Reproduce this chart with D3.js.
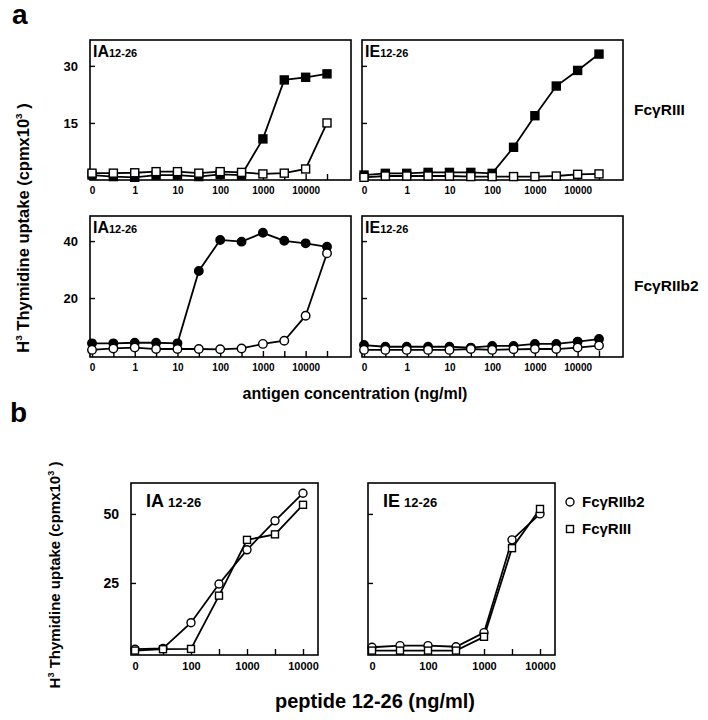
<!DOCTYPE html>
<html>
<head>
<meta charset="utf-8">
<script src="https://cdn.jsdelivr.net/npm/d3@7"></script>
<style>
  body { margin: 0; background: #fff; }
  text { font-family: "Liberation Sans", Arial, Helvetica, sans-serif; font-weight: bold; fill: #000; }
</style>
</head>
<body>
<svg id="chart" width="708" height="720"></svg>
<script>
// ---- panel a data (antigen, ng/ml) ----
const dosesA = ["0", "0.3", "1", "3", "10", "30", "100", "300", "1000", "3000", "10000", "30000"];
const tickLabelsA = ["0", "1", "10", "100", "1000", "10000"];

// FcgRIII row (squares)
const iaRIIIfilled = [1.3, 0.9, 0.7, 1.3, 1.3, 0.9, 1.5, 1.3, 10.8, 26.3, 27.0, 27.9];
const iaRIIIopen   = [1.8, 1.8, 1.9, 2.2, 2.2, 1.8, 2.2, 2.0, 1.6, 1.8, 2.9, 15.0];
const ieRIIIfilled = [1.3, 1.75, 1.75, 2.0, 2.0, 2.0, 1.75, 8.6, 16.9, 24.7, 28.8, 33.1];
const ieRIIIopen   = [0.7, 1.05, 1.05, 1.05, 1.05, 0.9, 0.9, 0.9, 0.9, 1.05, 1.5, 1.6];

// FcgRIIb2 row (circles)
const iaRIIb2filled = [4.1, 4.1, 4.3, 4.3, 4.1, 29.5, 40.4, 39.8, 42.9, 40.1, 39.2, 38.0];
const iaRIIb2open   = [1.8, 2.3, 2.6, 2.1, 2.1, 2.1, 2.0, 2.3, 3.9, 5.0, 13.8, 35.7];
const ieRIIb2filled = [3.5, 2.9, 2.9, 2.9, 2.9, 2.6, 3.2, 3.2, 3.9, 3.9, 4.7, 5.6];
const ieRIIb2open   = [1.8, 1.8, 1.8, 1.8, 1.8, 2.1, 1.8, 2.0, 2.1, 2.1, 2.6, 3.3];

const yTicksTop = [15, 30];
const yTicksBottom = [20, 40];

// ---- panel b data (peptide 12-26, ng/ml) ----
const dosesB = ["0", "30", "100", "300", "1000", "3000", "10000"];
const tickLabelsB = ["0", "100", "1000", "10000"];
const iaBRIIb2 = [1.0, 1.3, 10.6, 24.6, 37.0, 47.5, 57.5];
const iaBRIII  = [0.5, 1.0, 1.1, 20.4, 40.6, 42.6, 53.3];
const ieBRIIb2 = [1.7, 2.3, 2.3, 1.9, 7.0, 40.6, 50.0];
const ieBRIII  = [0.5, 0.5, 0.5, 0.5, 5.5, 37.6, 51.8];
const yTicksB = [25, 50];

const svg = d3.select("#chart");

function drawPanel(o) {
  const g = svg.append("g").attr("transform", `translate(${o.x},${o.y})`);
  const xs = d3.scalePoint().domain(o.doses).range(o.xRange);
  const ys = d3.scaleLinear().domain(o.yDomain).range([o.h, 0]);

  g.append("rect")
    .attr("width", o.w).attr("height", o.h)
    .attr("fill", "none").attr("stroke", "#000").attr("stroke-width", 1.6);

  const xa = g.append("g")
    .attr("transform", `translate(0,${o.h})`)
    .call(d3.axisBottom(xs)
      .tickSizeInner(-6).tickSizeOuter(0).tickPadding(7)
      .tickFormat(d => o.labels.includes(d) ? d : ""));
  xa.select(".domain").remove();
  xa.selectAll("line").attr("stroke-width", 1.4);
  xa.selectAll("text").attr("font-size", o.xFont).attr("font-family", null);

  const ya = g.append("g")
    .call(d3.axisLeft(ys).tickValues(o.yTicks)
      .tickSizeInner(-5).tickSizeOuter(0).tickPadding(12)
      .tickFormat(d => o.showY ? d : ""));
  ya.select(".domain").remove();
  ya.selectAll("line").attr("stroke-width", 1.4);
  ya.selectAll("text").attr("font-size", o.yFont).attr("font-family", null);

  const line = d3.line().x((d, i) => xs(o.doses[i])).y(d => ys(d));

  o.series.forEach(s => {
    g.append("path").datum(s.values)
      .attr("d", line).attr("fill", "none")
      .attr("stroke", "#000").attr("stroke-width", 1.8);
  });
  o.series.forEach(s => {
    const m = s.size;
    if (s.shape === "square") {
      g.selectAll(null).data(s.values).join("rect")
        .attr("x", (d, i) => xs(o.doses[i]) - m / 2)
        .attr("y", d => ys(d) - m / 2)
        .attr("width", m).attr("height", m)
        .attr("fill", s.filled ? "#000" : "#fff")
        .attr("stroke", "#000").attr("stroke-width", 1.4);
    } else {
      g.selectAll(null).data(s.values).join("circle")
        .attr("cx", (d, i) => xs(o.doses[i]))
        .attr("cy", d => ys(d))
        .attr("r", m / 2)
        .attr("fill", s.filled ? "#000" : "#fff")
        .attr("stroke", "#000").attr("stroke-width", 1.4);
    }
  });

  const t = g.append("text").attr("x", o.titleX).attr("y", o.titleY).attr("font-size", o.titleSize);
  t.append("tspan").text(o.title);
  t.append("tspan").attr("font-size", o.subSize).attr("dx", o.subGap).text("12-26");
}

// ---- panel a ----
const aCommon = { w: 261, doses: dosesA, labels: tickLabelsA, xRange: [2, 237],
  xFont: 10, yFont: 13, titleX: 3, titleY: 17, titleSize: 16, subSize: 11, subGap: 0 };

drawPanel({ ...aCommon, x: 90, y: 40, h: 140, yDomain: [0, 36.8], yTicks: yTicksTop, title: "IA", showY: true,
  series: [{ values: iaRIIIfilled, shape: "square", filled: true, size: 8 },
           { values: iaRIIIopen, shape: "square", filled: false, size: 8 }] });
drawPanel({ ...aCommon, x: 362, y: 40, h: 140, yDomain: [0, 36.8], yTicks: yTicksTop, title: "IE", showY: false,
  series: [{ values: ieRIIIfilled, shape: "square", filled: true, size: 8 },
           { values: ieRIIIopen, shape: "square", filled: false, size: 8 }] });
drawPanel({ ...aCommon, x: 90, y: 216, h: 141, yDomain: [-0.7, 48.8], yTicks: yTicksBottom, title: "IA", showY: true,
  series: [{ values: iaRIIb2filled, shape: "circle", filled: true, size: 8.5 },
           { values: iaRIIb2open, shape: "circle", filled: false, size: 8.5 }] });
drawPanel({ ...aCommon, x: 362, y: 216, h: 141, yDomain: [-0.7, 48.8], yTicks: yTicksBottom, title: "IE", showY: false,
  series: [{ values: ieRIIb2filled, shape: "circle", filled: true, size: 8.5 },
           { values: ieRIIb2open, shape: "circle", filled: false, size: 8.5 }] });

svg.append("text").attr("x", 12).attr("y", 24).attr("font-size", 28).text("a");
svg.append("text").attr("x", 634).attr("y", 115).attr("font-size", 15.5).text("FcγRIII");
svg.append("text").attr("x", 634).attr("y", 291).attr("font-size", 15.5).text("FcγRIIb2");
svg.append("text").attr("x", 355).attr("y", 399).attr("text-anchor", "middle")
  .attr("font-size", 16).text("antigen concentration (ng/ml)");

function yLabel(x, y, size) {
  const t = svg.append("text").attr("transform", `translate(${x},${y}) rotate(-90)`)
    .attr("text-anchor", "middle").attr("font-size", size);
  t.append("tspan").text("H");
  t.append("tspan").attr("font-size", size * 0.6).attr("dy", -size * 0.4).text("3");
  t.append("tspan").attr("dy", size * 0.4).text(" Thymidine uptake (cpmx10");
  t.append("tspan").attr("font-size", size * 0.6).attr("dy", -size * 0.4).text("3");
  t.append("tspan").attr("dy", size * 0.4).text(" )");
}
yLabel(29, 228, 16.5);

// ---- panel b ----
const bCommon = { w: 187, y: 483, h: 172, doses: dosesB, labels: tickLabelsB, xRange: [4, 172],
  yDomain: [-1.1, 61.2], yTicks: yTicksB, xFont: 11, yFont: 14,
  titleX: 15, titleY: 24, titleSize: 18, subSize: 13, subGap: 4 };

drawPanel({ ...bCommon, x: 131, title: "IA", showY: true,
  series: [{ values: iaBRIIb2, shape: "circle", filled: false, size: 8 },
           { values: iaBRIII, shape: "square", filled: false, size: 7 }] });
drawPanel({ ...bCommon, x: 368, title: "IE", showY: false,
  series: [{ values: ieBRIIb2, shape: "circle", filled: false, size: 8 },
           { values: ieBRIII, shape: "square", filled: false, size: 7 }] });

svg.append("text").attr("x", 10).attr("y", 422).attr("font-size", 28).text("b");
yLabel(60, 575, 15);
svg.append("text").attr("x", 375).attr("y", 708).attr("text-anchor", "middle")
  .attr("font-size", 20).text("peptide 12-26 (ng/ml)");

// legend
svg.append("circle").attr("cx", 570).attr("cy", 502).attr("r", 4)
  .attr("fill", "#fff").attr("stroke", "#000").attr("stroke-width", 1.4);
svg.append("rect").attr("x", 566.5).attr("y", 525.5).attr("width", 7).attr("height", 7)
  .attr("fill", "#fff").attr("stroke", "#000").attr("stroke-width", 1.4);
svg.append("text").attr("x", 582).attr("y", 507).attr("font-size", 15).text("FcγRIIb2");
svg.append("text").attr("x", 582).attr("y", 534).attr("font-size", 15).text("FcγRIII");
</script>
</body>
</html>
